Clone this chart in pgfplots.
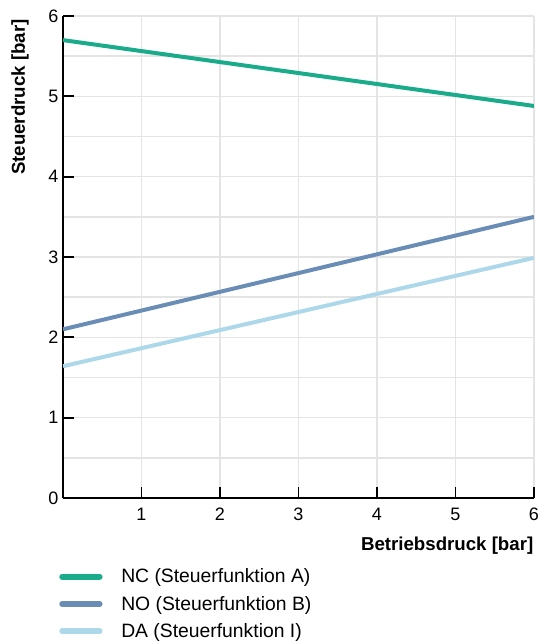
\documentclass[border=0pt]{standalone}
\usepackage{pgfplots}
\pgfplotsset{compat=1.18}
\usepackage{fontspec}
\setmainfont{Liberation Sans}

\definecolor{ncgreen}{HTML}{1AAB8A}
\definecolor{noblue}{HTML}{6A8DB6}
\definecolor{dablue}{HTML}{ADD8EA}
\definecolor{gridgray}{HTML}{E4E4E4}

\begin{document}
\begin{tikzpicture}
\useasboundingbox (-47.25pt,-109.5pt) rectangle (357.75pt,373.5pt);
\begin{axis}[
    scale only axis,
    width=353.25pt,
    height=361.5pt,
    xmin=0, xmax=6,
    ymin=0, ymax=6,
    axis x line*=bottom,
    axis y line*=left,
    axis line style={line width=1.6pt, black},
    xtick={1,2,3,4,5,6},
    ytick={0,1,2,3,4,5,6},
    minor ytick={0.5,1.5,2.5,3.5,4.5,5.5},
    grid=both,
    major grid style={gridgray, line width=1.1pt},
    minor grid style={gridgray, line width=1.1pt},
    tick align=inside,
    major tick length=8pt,
    minor tick length=0pt,
    x tick style={black, line width=1.1pt},
    y tick style={black, line width=1.3pt},
    /pgf/number format/assume math mode=true,
    ticklabel style={font=\fontsize{13.5}{16}\selectfont},
    xticklabel style={yshift=-4pt},
    xlabel={\textbf{Betriebsdruck [bar]}},
    ylabel={\textbf{Steuerdruck [bar]}},
    label style={font=\fontsize{14}{16}\selectfont},
    xlabel style={at={(axis description cs:1,0)}, anchor=east, yshift=-36pt, xshift=3pt},
    ylabel style={at={(axis description cs:-0.091,1)}, anchor=east, xshift=1pt},
    legend cell align=left,
    legend style={
        at={(axis description cs:-0.017,-0.135)}, anchor=north west,
        draw=none, fill=none,
        font=\fontsize{14.5}{17}\selectfont,
        row sep=4.5pt,
        column sep=12pt,
    },
    legend image code/.code={\draw[#1, line width=4.5pt, line cap=round] (0pt,0pt) -- (28pt,0pt);},
]
\addplot[ncgreen, line width=3pt] coordinates {(0,5.70) (6,4.88)};
\addlegendentry{NC (Steuerfunktion A)}
\addplot[noblue, line width=3pt] coordinates {(0,2.10) (6,3.50)};
\addlegendentry{NO (Steuerfunktion B)}
\addplot[dablue, line width=3pt] coordinates {(0,1.64) (6,2.99)};
\addlegendentry{DA (Steuerfunktion I)}
\end{axis}
\end{tikzpicture}
\end{document}
